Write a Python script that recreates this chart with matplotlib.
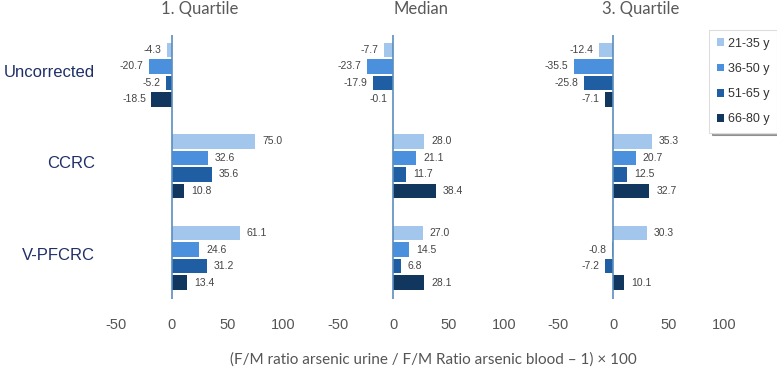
import numpy as np
import matplotlib.pyplot as plt

groups = ['Uncorrected', 'CCRC', 'V-PFCRC']
ages = ['21-35 y', '36-50 y', '51-65 y', '66-80 y']
panels = ['1. Quartile', 'Median', '3. Quartile']

# values per panel, one list per age group (Uncorrected, CCRC, V-PFCRC)
q1_21_35 = [-4.3, 75.0, 61.1]
q1_36_50 = [-20.7, 32.6, 24.6]
q1_51_65 = [-5.2, 35.6, 31.2]
q1_66_80 = [-18.5, 10.8, 13.4]

med_21_35 = [-7.7, 28.0, 27.0]
med_36_50 = [-23.7, 21.1, 14.5]
med_51_65 = [-17.9, 11.7, 6.8]
med_66_80 = [-0.1, 38.4, 28.1]

q3_21_35 = [-12.4, 35.3, 30.3]
q3_36_50 = [-35.5, 20.7, -0.8]
q3_51_65 = [-25.8, 12.5, -7.2]
q3_66_80 = [-7.1, 32.7, 10.1]

xticks = [-50, 0, 50, 100]

data = [
    [q1_21_35, q1_36_50, q1_51_65, q1_66_80],
    [med_21_35, med_36_50, med_51_65, med_66_80],
    [q3_21_35, q3_36_50, q3_51_65, q3_66_80],
]
colors = ['#a3c7ec', '#4a90dc', '#1f5ea3', '#12375f']

plt.rcParams['font.family'] = ['Liberation Sans', 'DejaVu Sans']
W, H = 777, 368
fig = plt.figure(figsize=(W / 100, H / 100), dpi=100)

gstep = 5.55
zeros_px = [172, 393, 613]
ppu = 1.11  # pixels per data unit
xmin, xmax = -60, 105
top_px, bot_px = 35, 299

axes = []
for p, (title, series) in enumerate(zip(panels, data)):
    left = zeros_px[p] + xmin * ppu
    width = (xmax - xmin) * ppu
    ax = fig.add_axes([left / W, 1 - bot_px / H, width / W, (bot_px - top_px) / H])
    for j, vals in enumerate(series):
        y = np.arange(len(groups)) * gstep + j
        ax.barh(y, vals, height=0.88, color=colors[j], label=ages[j])
        for yy, v in zip(y, vals):
            ax.annotate(f'{v:.1f}', xy=(v, yy), xytext=(5 if v >= 0 else -4, 0),
                        textcoords='offset points', va='center',
                        ha='left' if v >= 0 else 'right', fontsize=7.5, color='#444444')
    ax.axvline(0, color='#5b8dbd', lw=1.2)
    ax.set_xlim(xmin, xmax)
    ax.set_ylim(15.1, -0.9)
    ax.set_xticks(xticks)
    ax.set_xticklabels([str(t) for t in xticks])
    ax.tick_params(axis='x', length=0, pad=14, labelsize=10.5, labelcolor='#555555')
    ax.set_yticks([])
    for s in ax.spines.values():
        s.set_visible(False)
    ax.patch.set_alpha(0)
    ax.annotate(title, xy=(25, 1), xycoords=('data', 'axes fraction'),
                xytext=(0, 18.5), textcoords='offset points', ha='center', va='center',
                fontsize=12, color='#595959', family=['Lato', 'DejaVu Sans'])
    axes.append(ax)

# category labels on the left
for i, g in enumerate(groups):
    axes[0].annotate(g, xy=(95 / W, i * gstep + 1.35),
                     xycoords=('figure fraction', 'data'), ha='right', va='center',
                     fontsize=12, color='#1f3068')

fig.text(433 / W, 1 - 360 / H,
         '(F/M ratio arsenic urine / F/M Ratio arsenic blood \u2013 1) \u00d7 100',
         ha='center', va='center', fontsize=11, color='#555555',
         family=['Lato', 'DejaVu Sans'])

handles, labels = axes[0].get_legend_handles_labels()
leg = fig.legend(handles, labels, loc='upper left', bbox_to_anchor=(703 / W, 1 - 24 / H),
                 fontsize=9, frameon=True, shadow=True, fancybox=False,
                 handlelength=0.6, handleheight=0.6, handletextpad=0.3,
                 labelspacing=1.05, borderpad=0.6, labelcolor='#333333')
leg.get_frame().set_edgecolor('#dddddd')
leg.get_frame().set_linewidth(0.8)

fig.savefig('out.png', dpi=100)
